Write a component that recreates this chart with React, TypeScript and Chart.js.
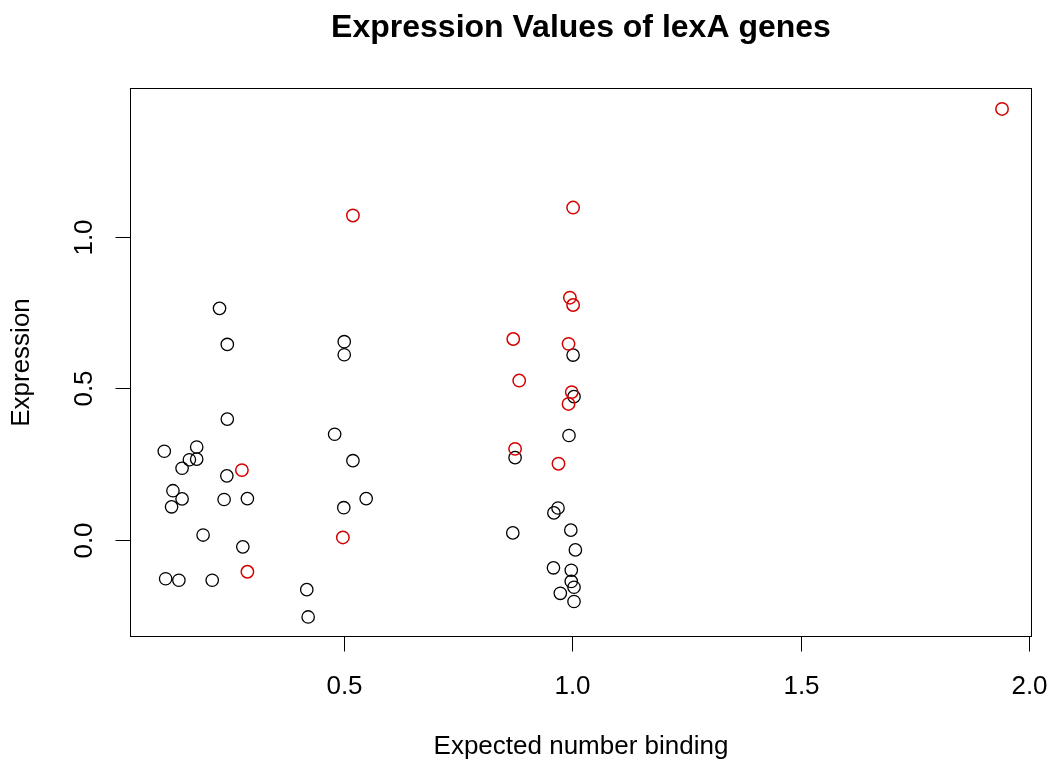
import { useEffect, useRef } from "react";
import { Chart, registerables } from "chart.js";

Chart.register(...registerables);

// Genes without a lexA site call (black) and with one (red)
const blackX = [
  0.228, 0.245, 0.245, 0.107, 0.178, 0.162, 0.178, 0.146, 0.244, 0.126,
  0.146, 0.123, 0.238, 0.289, 0.192, 0.279, 0.110, 0.139, 0.212, 0.419,
  0.422, 0.480, 0.520, 0.549, 0.500, 0.501, 0.501, 1.002, 1.004, 0.993,
  0.875, 0.969, 0.960, 0.870, 0.997, 1.007, 0.959, 0.998, 0.998, 1.004,
  0.974, 1.004,
];
const blackY = [
  0.764, 0.645, 0.399, 0.293, 0.307, 0.265, 0.267, 0.237, 0.212, 0.163,
  0.136, 0.110, 0.134, 0.137, 0.017, -0.022, -0.127, -0.132, -0.132, -0.163,
  -0.253, 0.349, 0.262, 0.137, 0.107, 0.654, 0.611, 0.610, 0.473, 0.345,
  0.272, 0.106, 0.090, 0.024, 0.033, -0.032, -0.091, -0.099, -0.136, -0.155,
  -0.175, -0.202,
];
const redX = [
  0.277, 0.289, 0.498, 0.520, 1.002, 0.995, 1.002, 0.871, 0.992, 0.884,
  0.999, 0.992, 0.875, 0.970, 1.941,
];
const redY = [
  0.231, -0.104, 0.009, 1.070, 1.096, 0.799, 0.775, 0.663, 0.647, 0.526,
  0.488, 0.449, 0.301, 0.252, 1.421,
];

const xTicks = [0.5, 1.0, 1.5, 2.0];
const yTicks = [0.0, 0.5, 1.0];
const xTickLabels = ["0.5", "1.0", "1.5", "2.0"];
const yTickLabels = ["0.0", "0.5", "1.0"];

const mainTitle = "Expression Values of lexA genes";
const xTitle = "Expected number binding";
const yTitle = "Expression";

const FONT = '"Liberation Sans", Arial, Helvetica, sans-serif';

const toPoints = (xs: number[], ys: number[]) =>
  xs.map((x, i) => ({ x, y: ys[i] }));

// Draws the box, axes, tick labels and titles in base-graphics style
const baseAxesPlugin = {
  id: "baseAxes",
  afterDraw(chart: any) {
    const { ctx, chartArea: a, scales } = chart;
    const xs = scales.x;
    const ys = scales.y;
    const tick = 15;
    ctx.save();
    ctx.strokeStyle = "#000";
    ctx.fillStyle = "#000";
    ctx.lineWidth = 1;

    // plot box
    ctx.strokeRect(a.left + 0.5, a.top + 0.5, a.right - a.left - 1, a.bottom - a.top - 1);

    // x axis
    const xb = Math.round(a.bottom) - 0.5;
    const xp = xTicks.map((v) => Math.round(xs.getPixelForValue(v)) + 0.5);
    ctx.beginPath();
    ctx.moveTo(xp[0], xb);
    ctx.lineTo(xp[xp.length - 1], xb);
    xp.forEach((p) => {
      ctx.moveTo(p, xb);
      ctx.lineTo(p, xb + tick);
    });
    ctx.stroke();
    ctx.font = `26px ${FONT}`;
    ctx.textAlign = "center";
    ctx.textBaseline = "middle";
    xp.forEach((p, i) => ctx.fillText(xTickLabels[i], p, a.bottom + 50));

    // y axis
    const yl = Math.round(a.left) + 0.5;
    const yp = yTicks.map((v) => Math.round(ys.getPixelForValue(v)) + 0.5);
    ctx.beginPath();
    ctx.moveTo(yl, yp[0]);
    ctx.lineTo(yl, yp[yp.length - 1]);
    yp.forEach((p) => {
      ctx.moveTo(yl, p);
      ctx.lineTo(yl - tick, p);
    });
    ctx.stroke();
    yp.forEach((p, i) => {
      ctx.save();
      ctx.translate(a.left - 45, p);
      ctx.rotate(-Math.PI / 2);
      ctx.fillText(yTickLabels[i], 0, 0);
      ctx.restore();
    });

    // titles
    const cx = (a.left + a.right) / 2;
    ctx.fillText(xTitle, cx, 747);
    ctx.save();
    ctx.translate(22, (a.top + a.bottom) / 2);
    ctx.rotate(-Math.PI / 2);
    ctx.fillText(yTitle, 0, 0);
    ctx.restore();
    ctx.font = `bold 32px ${FONT}`;
    ctx.fillText(mainTitle, cx, 28);
    ctx.restore();
  },
};

export default function App() {
  const ref = useRef<HTMLCanvasElement | null>(null);

  useEffect(() => {
    if (!ref.current) return;
    const chart = new Chart(ref.current, {
      type: "scatter",
      data: {
        datasets: [
          {
            label: "lexA",
            data: toPoints(redX, redY),
            pointRadius: 6.2,
            pointHoverRadius: 6.2,
            pointBorderWidth: 1.5,
            pointBorderColor: "#D40000",
            pointBackgroundColor: "rgba(0,0,0,0)",
          },
          {
            label: "other",
            data: toPoints(blackX, blackY),
            pointRadius: 6.2,
            pointHoverRadius: 6.2,
            pointBorderWidth: 1.3,
            pointBorderColor: "#000000",
            pointBackgroundColor: "rgba(0,0,0,0)",
          },
        ],
      },
      options: {
        responsive: false,
        animation: false,
        events: [],
        layout: { padding: { left: 130, top: 88, right: 23, bottom: 130 } },
        plugins: {
          legend: { display: false },
          tooltip: { enabled: false },
          title: { display: false },
        },
        scales: {
          x: { type: "linear", display: false, min: 0.032, max: 2.0066 },
          y: { type: "linear", display: false, min: -0.319, max: 1.49 },
        },
      },
      plugins: [baseAxesPlugin],
    });
    return () => chart.destroy();
  }, []);

  return (
    <div style={{ position: "fixed", left: 0, top: 0, width: 1055, height: 767, background: "#fff" }}>
      <canvas ref={ref} width={1055} height={767} />
    </div>
  );
}
